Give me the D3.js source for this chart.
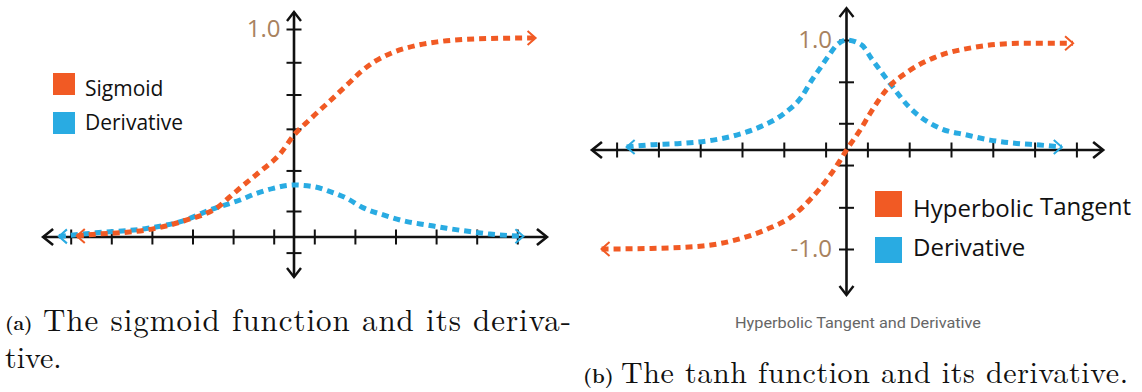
<!DOCTYPE html>
<html><head><meta charset="utf-8">
<script src="https://cdn.jsdelivr.net/npm/d3@7"></script>
<style>body{margin:0;background:#fff} svg{display:block}</style>
</head><body><svg id="c" width="1142" height="392"></svg>
<script>
// ---------- data ----------
// Panel (a): sigmoid and its derivative
const sigX = [-5.35, -4.86, -4.29, -3.63, -3.05, -2.64, -2.23, -1.9, -1.6, -1.29, -0.84, -0.34, 0, 0.39, 0.89, 1.38, 1.65, 2.0, 2.41, 3.0, 3.53, 4.56, 5.95];
const sigY = [0.005, 0.014, 0.02, 0.034, 0.058, 0.082, 0.108, 0.14, 0.19, 0.242, 0.314, 0.40, 0.49, 0.565, 0.655, 0.745, 0.795, 0.845, 0.885, 0.92, 0.938, 0.953, 0.957];
const dSigX = [-5.79, -4.88, -3.6, -2.73, -2.07, -1.33, -0.92, -0.51, 0, 0.48, 0.89, 1.3, 1.71, 2.2, 2.78, 3.27, 3.76, 4.33, 4.83, 5.65];
const dSigY = [0.003, 0.02, 0.042, 0.078, 0.13, 0.178, 0.21, 0.234, 0.25, 0.242, 0.218, 0.186, 0.14, 0.106, 0.074, 0.058, 0.042, 0.026, 0.014, 0.004];
const xTicksA = [-5.5, -4.5, -3.5, -2.5, -1.5, -0.5, 0.5, 1.5, 2.5, 3.5, 4.5, 5.5];
const yTicksA = [1.0, 0.84, 0.685, 0.52, 0.32, 0.125, -0.075];
const legendA = ["Sigmoid", "Derivative"];
const captionA = ["(a)", "The sigmoid function and its deriva-", "tive."];

// Panel (b): tanh and its derivative
const tanhX = [-5.86, -4.72, -3.44, -2.58, -1.90, -1.27, -0.87, -0.47, -0.16, 0, 0.34, 0.56, 0.96, 1.5, 2.1, 3.0, 4.2, 5.42];
const tanhY = [-1.0, -0.995, -0.97, -0.9, -0.8, -0.66, -0.5, -0.3, -0.11, 0, 0.19, 0.33, 0.55, 0.72, 0.84, 0.93, 0.97, 0.97];
const dTanhX = [-5.26, -4.78, -3.98, -3.19, -2.63, -2.07, -1.5, -1.07, -0.83, -0.63, -0.44, -0.23, 0, 0.36, 0.6, 0.8, 1.04, 1.5, 2.24, 2.88, 3.43, 4.07, 4.63, 5.15];
const dTanhY = [0.027, 0.045, 0.06, 0.09, 0.136, 0.21, 0.33, 0.485, 0.636, 0.745, 0.85, 0.955, 1.0, 0.955, 0.83, 0.727, 0.606, 0.39, 0.197, 0.136, 0.09, 0.06, 0.045, 0.027];
const xTicksB = [-5.5, -4.5, -3.5, -2.5, -1.5, -0.5, 0.5, 1.5, 2.5, 3.5, 4.5, 5.5];
const yTicksB = [1.0, 0.62, 0.243, -0.152, -0.579, -1.0];
const legendB = ["Hyperbolic", "Tangent", "Derivative"];
const captionB = ["Hyperbolic Tangent and Derivative", "(b)", "The tanh function and its derivative."];

// ---------- drawing ----------
const ORANGE = "#f15a24", BLUE = "#29abe2", TAN = "#a8825e", INK = "#111";
const svg = d3.select("#c");
svg.append("rect").attr("width", 1142).attr("height", 392).attr("fill", "#fff");

function chevron(g, x, y, dir, L, H, color, w) {
  let d;
  if (dir === "right") d = `M${x - L},${y - H}L${x},${y}L${x - L},${y + H}`;
  if (dir === "left") d = `M${x + L},${y - H}L${x},${y}L${x + L},${y + H}`;
  if (dir === "up") d = `M${x - H},${y + L}L${x},${y}L${x + H},${y + L}`;
  if (dir === "down") d = `M${x - H},${y - L}L${x},${y}L${x + H},${y - L}`;
  g.append("path").attr("d", d).attr("fill", "none").attr("stroke", color)
    .attr("stroke-width", w).attr("stroke-linejoin", "miter").attr("stroke-linecap", "butt");
}

function panel(cfg) {
  const { x, y, xTicks, yTicks, xExt, yExt, fmt, pad, series } = cfg;
  const g = svg.append("g");
  const x0 = x(0), y0 = y(0);
  const gx = g.append("g").attr("transform", `translate(0,${y0 - 7.5})`)
    .call(d3.axisBottom(x).tickValues(xTicks).tickSize(15).tickFormat(""));
  gx.select(".domain").remove();
  gx.selectAll(".tick line").attr("stroke", INK).attr("stroke-width", 2);
  const gy = g.append("g").attr("transform", `translate(${x0 + 7.5},0)`)
    .call(d3.axisLeft(y).tickValues(yTicks).tickSize(15).tickPadding(pad).tickFormat(fmt));
  gy.select(".domain").remove();
  gy.selectAll(".tick line").attr("stroke", INK).attr("stroke-width", 2);
  gy.selectAll(".tick text").attr("fill", TAN).attr("font-family", "'Open Sans', sans-serif")
    .attr("font-size", 24);
  g.append("line").attr("x1", x(xExt[0])).attr("x2", x(xExt[1])).attr("y1", y0).attr("y2", y0)
    .attr("stroke", INK).attr("stroke-width", 2.6);
  g.append("line").attr("x1", x0).attr("x2", x0).attr("y1", y(yExt[0])).attr("y2", y(yExt[1]))
    .attr("stroke", INK).attr("stroke-width", 2.6);
  chevron(g, x(xExt[0]), y0, "left", 10, 8, INK, 2.6);
  chevron(g, x(xExt[1]), y0, "right", 10, 8, INK, 2.6);
  chevron(g, x0, y(yExt[0]), "down", 9, 7, INK, 2.4);
  chevron(g, x0, y(yExt[1]), "up", 9, 7, INK, 2.4);
  series.forEach(s => {
    const pts = s.xs.map((v, i) => [v, s.ys[i]]);
    const line = d3.line().x(d => x(d[0])).y(d => y(d[1])).curve(d3.curveMonotoneX);
    g.append("path").attr("d", line(pts)).attr("fill", "none").attr("stroke", s.color)
      .attr("stroke-width", 5).attr("stroke-dasharray", "7,5");
    const a = pts[0], b = pts[pts.length - 1];
    chevron(g, x(a[0]), y(a[1]), "left", 8, 7, s.color, 2);
    chevron(g, x(b[0]), y(b[1]), "right", 8, 7, s.color, 2);
  });
  return g;
}

// Panel (a)
const xA = d3.scaleLinear().domain([-6, 6]).range([294 - 6 * 40.6, 294 + 6 * 40.6]);
const yA = d3.scaleLinear().domain([0, 1]).range([237, 29]);
panel({
  x: xA, y: yA, xTicks: xTicksA, yTicks: yTicksA,
  xExt: [-6.18, 6.23], yExt: [-0.192, 1.082],
  fmt: d => (d === 1 ? "1.0" : ""), pad: 6,
  series: [
    { xs: dSigX, ys: dSigY, color: BLUE },
    { xs: sigX, ys: sigY, color: ORANGE }
  ]
});

// Panel (b)
const xB = d3.scaleLinear().domain([-6, 6]).range([846.5 - 6 * 41.8, 846.5 + 6 * 41.8]);
const yB = d3.scaleLinear().domain([-1, 0, 1]).range([249, 150, 40]);
panel({
  x: xB, y: yB, xTicks: xTicksB, yTicks: yTicksB,
  xExt: [-6.09, 6.14], yExt: [-1.465, 1.29],
  fmt: d => (d === 1 ? "1.0" : d === -1 ? "-1.0" : ""), pad: 7,
  series: [
    { xs: dTanhX, ys: dTanhY, color: BLUE },
    { xs: tanhX, ys: tanhY, color: ORANGE }
  ]
});

// Legends
const lgA = svg.append("g").attr("font-family", "'Open Sans', sans-serif").attr("fill", INK);
[ORANGE, BLUE].forEach((c, i) => {
  lgA.append("rect").attr("x", 53).attr("y", 73 + i * 39).attr("width", 22).attr("height", 22).attr("fill", c);
  lgA.append("text").attr("x", 85).attr("y", 96 + i * 34).attr("font-size", 21).text(legendA[i]);
});
const lgB = svg.append("g").attr("font-family", "'Open Sans', sans-serif").attr("fill", INK);
[ORANGE, BLUE].forEach((c, i) => {
  lgB.append("rect").attr("x", 875).attr("y", 191 + i * 46).attr("width", 27).attr("height", 26).attr("fill", c);
});
lgB.append("text").attr("x", 913).attr("y", 217).attr("font-size", 24).text(legendB[0]);
lgB.append("text").attr("x", 1040).attr("y", 215).attr("font-size", 24).text(legendB[1]);
lgB.append("text").attr("x", 913).attr("y", 256).attr("font-size", 24).text(legendB[2]);

// Captions
const serif = "'Latin Modern Roman','CMU Serif','Liberation Serif','DejaVu Serif',serif";
svg.append("text").attr("x", 5).attr("y", 330).attr("font-family", serif).attr("font-weight", "bold")
  .attr("font-size", 19).attr("fill", INK).text(captionA[0]);
svg.append("text").attr("x", 43).attr("y", 331).attr("font-family", serif).attr("font-size", 31)
  .attr("fill", INK).attr("textLength", 528).attr("lengthAdjust", "spacing").text(captionA[1]);
svg.append("text").attr("x", 5).attr("y", 368).attr("font-family", serif).attr("font-size", 30)
  .attr("fill", INK).text(captionA[2]);

svg.append("text").attr("x", 735).attr("y", 328).attr("font-family", "Roboto, 'Liberation Sans', sans-serif")
  .attr("font-size", 14).attr("fill", "#666").attr("textLength", 246).attr("lengthAdjust", "spacingAndGlyphs")
  .text(captionB[0]);
svg.append("text").attr("x", 583).attr("y", 383).attr("font-family", serif).attr("font-weight", "bold")
  .attr("font-size", 20).attr("fill", INK).text(captionB[1]);
svg.append("text").attr("x", 621).attr("y", 383).attr("font-family", serif).attr("font-size", 30)
  .attr("fill", INK).attr("textLength", 507).attr("lengthAdjust", "spacing").text(captionB[2]);
</script></body></html>
